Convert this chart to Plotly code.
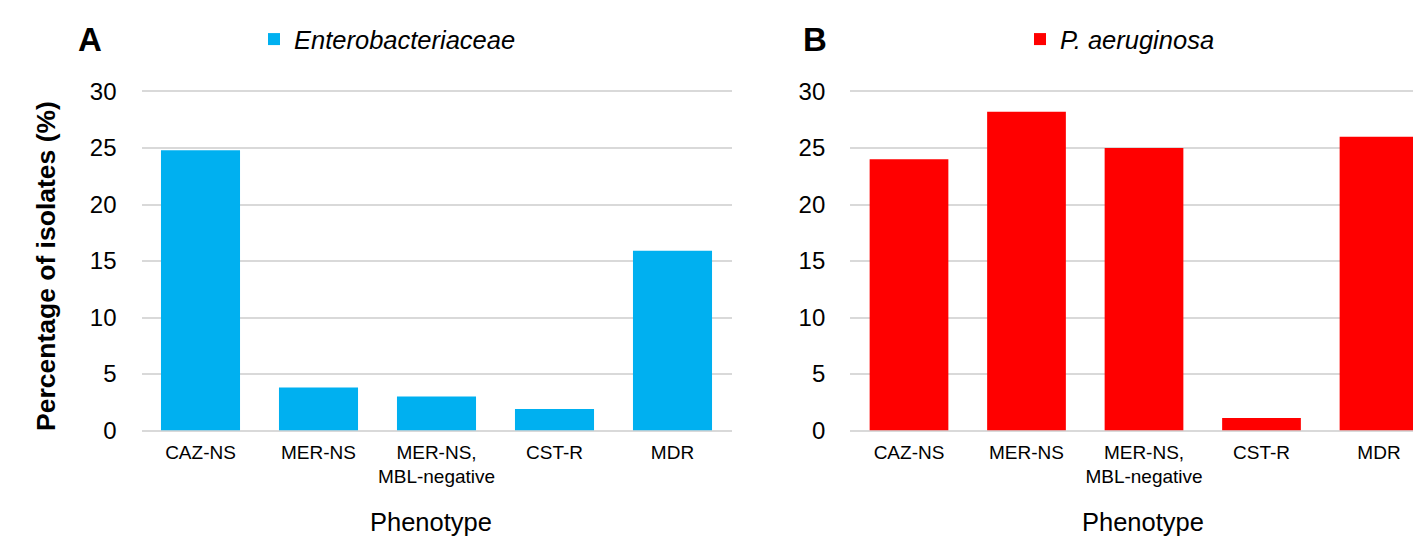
import plotly.graph_objects as go

categories = ["CAZ-NS", "MER-NS", "MER-NS,<br>MBL-negative", "CST-R", "MDR"]
entero_values = [24.8, 3.8, 3.0, 1.9, 15.9]
pseudo_values = [24.0, 28.2, 25.0, 1.1, 26.0]
y_ticks = [0, 5, 10, 15, 20, 25, 30]

# The page body has an 8px margin, so the figure is 8px smaller than the window
OFF = 8
W, H = 1421 - OFF, 536 - OFF
FONT = "Liberation Sans, Arial, sans-serif"
BLUE = "#00B0F0"
RED = "#FF0000"
GRID = "#D9D9D9"


def px(x):
    return (x - OFF) / W


def py(y):
    return (H - (y - OFF)) / H


fig = go.Figure()
fig.add_trace(go.Bar(x=categories, y=entero_values, name="<i>Enterobacteriaceae</i>",
                     marker=dict(color=BLUE, line=dict(width=0)),
                     xaxis="x", yaxis="y", legend="legend"))
fig.add_trace(go.Bar(x=categories, y=pseudo_values, name="<i>P. aeruginosa</i>",
                     marker=dict(color=RED, line=dict(width=0)),
                     xaxis="x2", yaxis="y2", legend="legend2"))

Y0, Y30 = 430.5, 91.5
ytop_val = 30.15
ytop_px = Y0 - (Y0 - Y30) * ytop_val / 30
ydom = [py(Y0), py(ytop_px)]
left_dom = [px(141.5), px(731.5)]
right_start = 850.25
right_cat = 117.5
right_dom = [px(right_start), 1.0]
right_range_end = -0.5 + (1421 - right_start) / right_cat

xcommon = dict(showgrid=False, zeroline=False, showline=False, ticks="",
               tickfont=dict(family=FONT, size=19, color="#000"),
               ticklabelstandoff=8, fixedrange=True)
ycommon = dict(range=[0, ytop_val], tickvals=y_ticks, showgrid=True, gridcolor=GRID,
               gridwidth=1.5, zeroline=True, zerolinecolor=GRID, zerolinewidth=1.5,
               showline=False, ticks="", tickfont=dict(family=FONT, size=24, color="#000"),
               ticklabelstandoff=24, fixedrange=True)

fig.update_layout(
    width=W, height=H,
    margin=dict(l=0, r=0, t=0, b=0, autoexpand=False),
    paper_bgcolor="white", plot_bgcolor="white",
    bargap=0.33,
    font=dict(family=FONT, color="#000"),
    xaxis=dict(domain=left_dom, anchor="y", range=[-0.5, 4.5], **xcommon),
    yaxis=dict(domain=ydom, anchor="x", **ycommon),
    xaxis2=dict(domain=right_dom, anchor="y2", range=[-0.5, right_range_end], **xcommon),
    yaxis2=dict(domain=ydom, anchor="x2", **ycommon),
    legend=dict(x=px(254), y=py(39.5), xanchor="left", yanchor="middle",
                font=dict(family=FONT, size=25.5, color="#000"), bgcolor="rgba(0,0,0,0)",
                borderwidth=0),
    legend2=dict(x=px(1020), y=py(39.5), xanchor="left", yanchor="middle",
                 font=dict(family=FONT, size=25.5, color="#000"), bgcolor="rgba(0,0,0,0)",
                 borderwidth=0),
    showlegend=True,
)

ann = [
    dict(text="<b>A</b>", x=px(90), y=py(39.5), font=dict(size=33)),
    dict(text="<b>B</b>", x=px(815), y=py(39.5), font=dict(size=33)),
    dict(text="Phenotype", x=px(431), y=py(522), font=dict(size=25.5)),
    dict(text="Phenotype", x=px(1143), y=py(522), font=dict(size=25.5)),
    dict(text="<b>Percentage of isolates (%)</b>", x=px(46), y=py(266),
         textangle=-90, font=dict(size=26.5)),
]
for a in ann:
    a.update(xref="paper", yref="paper", showarrow=False, xanchor="center", yanchor="middle")
    a["font"].update(family=FONT, color="#000")
    fig.add_annotation(**a)

fig.write_html("out.html")
